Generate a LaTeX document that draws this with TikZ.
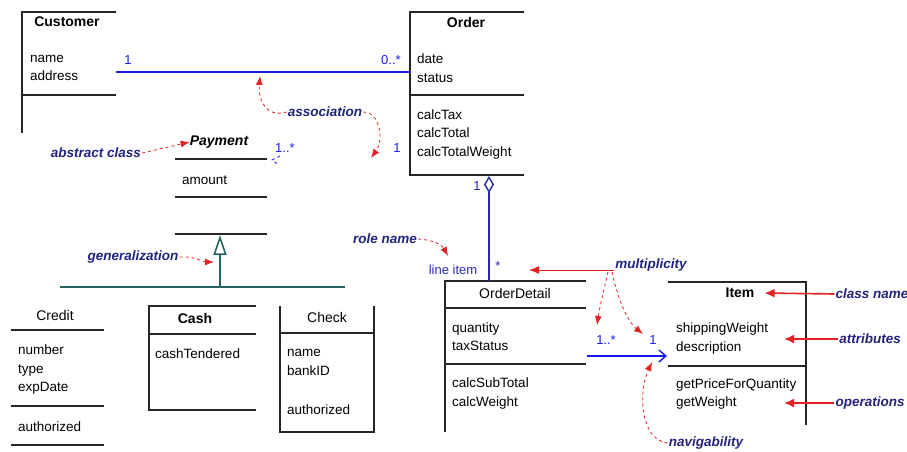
\documentclass[tikz,border=0pt]{standalone}
\usepackage{fontspec}
\setmainfont{Liberation Sans}
\usetikzlibrary{arrows.meta,positioning}
\definecolor{assocblue}{RGB}{25,25,235}
\definecolor{linkblue}{RGB}{40,40,175}
\definecolor{notenavy}{RGB}{35,35,125}
\definecolor{notered}{RGB}{225,35,35}
\definecolor{genteal}{RGB}{40,100,95}

\begin{document}
\begin{tikzpicture}[x=1pt,y=-1pt,
box/.style ={line width=1.4pt, black!85},
cname/.style ={inner sep=0pt, font=\fontsize{14}{16}\selectfont\bfseries},
plainname/.style ={inner sep=0pt, font=\fontsize{14}{16}\selectfont},
attr/.style ={anchor=west, align=left, inner sep=0pt, font=\fontsize{13.5}{18.5}\selectfont},
mult/.style ={text=assocblue, inner sep=0pt, font=\fontsize{13}{15}\selectfont},
note/.style ={text=notenavy, inner sep=1pt, font=\fontsize{13.5}{15}\selectfont\bfseries\itshape},
pointer/.style ={notered, thick, dashed, -{Latex[length=9pt,width=7pt]}},
pointsolid/.style ={notered, line width=1.6pt, -{Latex[length=10pt,width=9pt]}}]
\useasboundingbox (0,0) rectangle (907,451);

% Customer
\draw[box] (116,12) -- (22,12) -- (22,133);
\draw[box] (22,95) -- (116,95);
\node[cname] (customer) at (67,22) {Customer};
\node[attr] (customer-attr) at (30,68) {name\\address};
\coordinate (customer-e) at (116,72);

% Order
\draw[box] (524,12) -- (410,12) -- (410,175) -- (524,175);
\draw[box] (410,95) -- (524,95);
\node[cname] (order) at (466,22) {Order};
\node[attr] (order-attr) at (417,68) {date\\status};
\node[attr] (order-ops) at (417,134.5) {calcTax\\calcTotal\\calcTotalWeight};
\coordinate (order-w) at (410,72);
\coordinate (order-s) at (489,176);

\draw[assocblue, line width=1.4pt] (customer-e) -- (order-w);
\node[mult] at (128,60) {1};
\node[mult] at (391,60) {0..*};

% Payment (abstract)
\foreach \y in {159,197,234}
  \draw[box] (175,\y) -- (267,\y);
\node[cname, font=\fontsize{14}{16}\selectfont\bfseries\itshape] (payment) at (219,142) {Payment};
\node[attr] (payment-attr) at (182,180) {amount};
\draw[assocblue, thick, dashed] (280,156) -- (272,160) -- (279,165);
\node[mult] at (285,148) {1..*};
\node[mult] at (397,148) {1};

% generalization tree
\coordinate (payment-s) at (220,235);
\coordinate (gen-join) at (220,287);
\draw[genteal, line width=1.6pt, -{Triangle[open,length=20pt,width=13pt]}] (gen-join) -- (payment-s);
\draw[genteal, line width=1.6pt] (60,287) -- (345,287);

% Credit
\foreach \y in {330,406,445}
  \draw[box] (11,\y) -- (104,\y);
\node[plainname] (credit) at (55,315) {Credit};
\node[attr] (credit-attr) at (18,369.5) {number\\type\\expDate};
\node[attr] (credit-ops) at (18,427) {authorized};

% Cash
\draw[box] (256,306) -- (149,306) -- (149,410) -- (256,410);
\draw[box] (149,334) -- (256,334);
\node[cname] (cash) at (195,318) {Cash};
\node[attr] (cash-attr) at (155,354) {cashTendered};

% Check
\draw[box] (280,306) -- (280,432) -- (374,432) -- (374,306);
\draw[box] (280,333) -- (374,333);
\node[plainname] (check) at (327,317) {Check};
\node[attr] (check-attr) at (287,362.5) {name\\bankID};
\node[attr] (check-ops) at (287,410) {authorized};

% OrderDetail
\draw[box] (586,281) -- (445,281) -- (445,432);
\draw[box] (445,308) -- (586,308);
\draw[box] (445,364) -- (586,364);
\node[plainname] (detail) at (515,293) {OrderDetail};
\node[attr] (detail-attr) at (452,336.5) {quantity\\taxStatus};
\node[attr] (detail-ops) at (452,393.5) {calcSubTotal\\calcWeight};
\coordinate (detail-n) at (489,281);
\coordinate (detail-e) at (587,356);

\draw[linkblue, line width=1.4pt, {Diamond[open,length=17pt,width=10pt]}-] (order-s) -- (detail-n);
\node[mult, text=linkblue] at (477,186) {1};
\node[mult, text=linkblue] (role) at (453,270) {line item};
\node[mult, text=linkblue] at (498,266) {*};

% Item
\draw[box] (668,282) -- (806,282) -- (806,425);
\draw[box] (668,366) -- (806,366);
\node[cname] (item) at (740,293) {Item};
\node[attr] (item-attr) at (676,338.5) {shippingWeight\\description};
\node[attr] (item-ops) at (676,394) {getPriceForQuantity\\getWeight};
\coordinate (item-w) at (667,356);

\draw[assocblue, line width=1.4pt, -{Straight Barb[length=7pt,width=12pt]}] (detail-e) -- (item-w);
\node[mult] at (606,340) {1..*};
\node[mult] at (653,340) {1};

% notes
\node[note] (n-assoc) at (325,112) {association};
\draw[pointer] (n-assoc.west) .. controls (266,118) and (258,100) .. (260,76);
\draw[pointer] (n-assoc.east) .. controls (380,112) and (384,140) .. (371,158);

\node[note] (n-abstract) at (96,153) {abstract class};
\draw[pointer] (n-abstract.east) -- (payment.west);

\node[note] (n-gen) at (133,257) {generalization};
\draw[pointer] (n-gen.east) .. controls (196,256) and (202,262) .. (214,262);

\node[note] (n-role) at (385,239) {role name};
\draw[pointer] (n-role.east) .. controls (434,240) and (442,245) .. (448,256);

\node[note] (n-mult) at (651,265) {multiplicity};
\draw[notered, thick, -{Latex[length=10pt,width=8pt]}] (n-mult.west) ++(0,5) -- (529,270);
\draw[pointer] (608,272) .. controls (604,290) and (600,305) .. (597,325);
\draw[pointer] (612,272) .. controls (618,300) and (628,322) .. (643,334);

\node[note] (n-cname) at (872,294) {class name};
\draw[pointsolid] (n-cname.west) -- ([xshift=10pt]item.east);

\node[note] (n-attr) at (870,339) {attributes};
\draw[pointsolid] (n-attr.west) -- (784,339);

\node[note] (n-ops) at (870,403) {operations};
\draw[pointsolid] (n-ops.west) -- (784,403);

\node[note] (n-nav) at (706,443) {navigability};
\draw[pointer] (n-nav.west) .. controls (640,440) and (638,392) .. (652,362);

\end{tikzpicture}
\end{document}
